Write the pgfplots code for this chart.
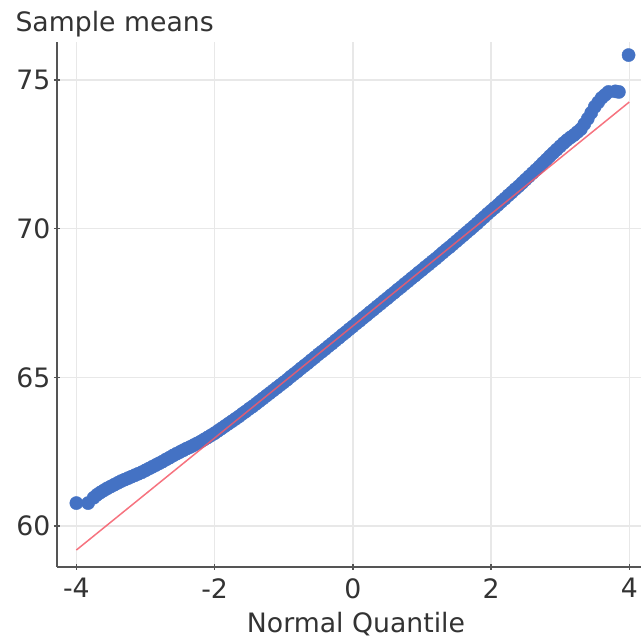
\documentclass[border=0pt]{standalone}
\usepackage{fontspec}
\setmainfont{DejaVu Sans}
\usepackage{pgfplots}
\pgfplotsset{compat=1.18}
\definecolor{ptblue}{RGB}{68,114,196}
\definecolor{fitred}{RGB}{245,90,105}
\definecolor{gridgray}{RGB}{232,232,232}
\definecolor{axgray}{RGB}{85,85,85}
\definecolor{txtgray}{RGB}{51,51,51}
\newcommand{\chartfont}{\fontsize{26.7}{32}\selectfont}
\begin{document}
\begin{tikzpicture}
\begin{axis}[
    scale only axis,
    width=584pt, height=525pt,
    xmin=-4.28, xmax=4.17,
    ymin=58.62, ymax=76.28,
    axis x line*=bottom,
    axis y line*=left,
    axis line style={axgray, line width=2.5pt},
    xtick={-4,-2,0,2,4},
    xticklabels={-4,-2,0,2,4},
    ytick={60,65,70,75},
    yticklabels={60,65,70,75},
    tick align=center,
    major tick length=6pt,
    tick style={axgray, line width=1.5pt},
    grid=major,
    major grid style={gridgray, line width=1.5pt},
    ticklabel style={font=\chartfont, text=txtgray},
    xticklabel style={yshift=-5pt},
    clip=false,
    clip marker paths=true,
]
% sample quantiles
\addplot[only marks, mark=*, mark size=6.6pt, color=ptblue] coordinates {
(-4.00,60.77) (-3.83,60.77) (-3.75,60.95)
(-3.70,61.05) (-3.65,61.13) (-3.60,61.20) (-3.55,61.27) (-3.50,61.33)
(-3.45,61.39) (-3.40,61.45) (-3.35,61.51) (-3.30,61.56) (-3.25,61.61)
(-3.20,61.66) (-3.15,61.71) (-3.10,61.76) (-3.05,61.81) (-3.00,61.87)
(-2.95,61.93) (-2.90,61.99) (-2.85,62.05) (-2.80,62.11) (-2.75,62.17)
(-2.70,62.24) (-2.65,62.30) (-2.60,62.37) (-2.55,62.43) (-2.50,62.49)
(-2.45,62.55) (-2.40,62.61) (-2.35,62.66) (-2.30,62.72) (-2.25,62.78)
(-2.20,62.84) (-2.15,62.91) (-2.10,62.98) (-2.05,63.05) (-2.00,63.12)
(-1.95,63.20) (-1.90,63.28) (-1.85,63.36) (-1.80,63.44) (-1.75,63.52)
(-1.70,63.60) (-1.65,63.68) (-1.60,63.77) (-1.55,63.85) (-1.50,63.94)
(-1.45,64.02) (-1.40,64.11) (-1.35,64.20) (-1.30,64.29) (-1.25,64.38)
(-1.20,64.47) (-1.15,64.56) (-1.10,64.65) (-1.05,64.74) (-1.00,64.83)
(-0.95,64.92) (-0.90,65.02) (-0.85,65.11) (-0.80,65.20) (-0.75,65.30)
(-0.70,65.39) (-0.65,65.48) (-0.60,65.58) (-0.55,65.67) (-0.50,65.77)
(-0.45,65.86) (-0.40,65.95) (-0.35,66.05) (-0.30,66.14) (-0.25,66.24)
(-0.20,66.33) (-0.15,66.43) (-0.10,66.52) (-0.05,66.62) (0.00,66.71)
(0.05,66.81) (0.10,66.90) (0.15,67.00) (0.20,67.09) (0.25,67.19)
(0.30,67.28) (0.35,67.38) (0.40,67.47) (0.45,67.57) (0.50,67.66)
(0.55,67.76) (0.60,67.85) (0.65,67.95) (0.70,68.04) (0.75,68.14)
(0.80,68.23) (0.85,68.33) (0.90,68.42) (0.95,68.52) (1.00,68.61)
(1.05,68.71) (1.10,68.80) (1.15,68.90) (1.20,68.99) (1.25,69.09)
(1.30,69.19) (1.35,69.29) (1.40,69.38) (1.45,69.48) (1.50,69.58)
(1.55,69.68) (1.60,69.78) (1.65,69.88) (1.70,69.98) (1.75,70.08)
(1.80,70.18) (1.85,70.29) (1.90,70.39) (1.95,70.50) (2.00,70.60)
(2.05,70.70) (2.10,70.80) (2.15,70.91) (2.20,71.01) (2.25,71.12)
(2.30,71.22) (2.35,71.33) (2.40,71.43) (2.45,71.54) (2.50,71.65)
(2.55,71.76) (2.60,71.87) (2.65,71.98) (2.70,72.09) (2.75,72.21)
(2.80,72.32) (2.85,72.44) (2.90,72.55) (2.95,72.66) (3.00,72.77)
(3.05,72.88) (3.10,72.98) (3.15,73.07) (3.20,73.15) (3.25,73.25)
(3.30,73.35) (3.35,73.52) (3.40,73.70) (3.45,73.90) (3.50,74.10)
(3.55,74.25) (3.60,74.40) (3.65,74.50) (3.70,74.60) (3.80,74.62)
(3.85,74.60) (3.99,75.84)
};
% reference line
\addplot[fitred, line width=1.5pt, opacity=0.85] coordinates {(-4,59.19) (4,74.26)};
\end{axis}
\node[anchor=base west, text=txtgray, font=\chartfont] at (-45pt,535pt) {Sample means};
\node[anchor=base, text=txtgray, font=\chartfont] at (299pt,-66pt) {Normal Quantile};
\pgfresetboundingbox
\path (-57pt,-72pt) rectangle (584pt,567pt);
\end{tikzpicture}
\end{document}
